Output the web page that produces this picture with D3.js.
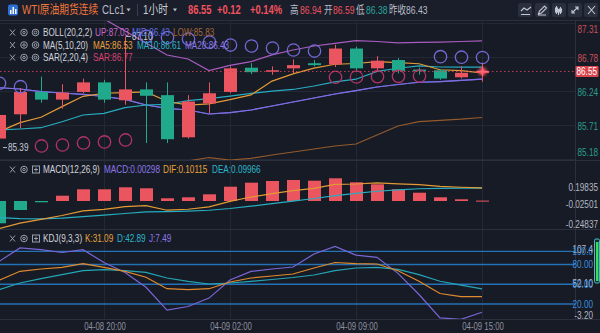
<!DOCTYPE html>
<html>
<head>
<meta charset="utf-8">
<script src="https://cdn.jsdelivr.net/npm/d3@7"></script>
<style>
  html, body { margin: 0; padding: 0; background: #171b26; }
  svg { display: block; }
</style>
</head>
<body>
<svg id="chart" width="600" height="333"></svg>
<script>
// ---------- hourly bars, WTI continuous ----------
const times = ["04-08 15:00","04-08 16:00","04-08 17:00","04-08 18:00","04-08 19:00","04-08 20:00",
  "04-08 21:00","04-08 22:00","04-08 23:00","04-09 00:00","04-09 01:00","04-09 02:00",
  "04-09 03:00","04-09 04:00","04-09 06:00","04-09 07:00","04-09 08:00","04-09 09:00",
  "04-09 10:00","04-09 11:00","04-09 12:00","04-09 13:00","04-09 14:00","04-09 15:00"];
const open  = [85.50,85.88,86.23,86.11,86.23,86.38,86.10,86.27,86.18,85.52,86.05,86.23,86.61,86.55,86.60,86.68,86.66,86.91,86.60,86.73,86.58,86.57,86.46,86.54];
const high  = [85.93,86.29,86.47,86.35,86.44,86.42,87.10,86.38,86.38,86.18,86.38,86.63,86.68,86.63,86.74,86.73,86.97,86.94,86.79,86.76,86.61,86.59,86.63,86.69];
const low   = [85.39,85.66,86.06,85.97,86.21,86.06,86.03,85.43,85.43,85.50,85.90,86.21,86.51,86.50,86.52,86.63,86.62,86.57,86.57,86.52,86.50,86.42,86.44,86.39];
const close = [85.87,86.23,86.11,86.22,86.38,86.11,86.27,86.17,85.49,86.08,86.21,86.60,86.54,86.57,86.65,86.65,86.91,86.60,86.72,86.56,86.57,86.44,86.53,86.55];

// moving averages
const ma5  = [85.608,85.749,85.833,86.000,86.162,86.210,86.218,86.230,86.084,86.024,86.044,86.110,86.184,86.400,86.514,86.602,86.664,86.676,86.706,86.688,86.672,86.578,86.564,86.530];
const ma10 = [85.634,85.650,85.670,85.764,85.869,85.896,85.984,86.026,86.037,86.093,86.127,86.164,86.207,86.242,86.269,86.323,86.387,86.430,86.553,86.601,86.637,86.621,86.620,86.618];
const ma20 = [86.297,86.276,86.234,86.214,86.193,86.159,86.115,86.026,85.974,85.947,85.885,85.905,85.947,86.010,86.073,86.135,86.198,86.250,86.308,86.347,86.382,86.393,86.410,86.430];

// Bollinger (20,2,2)
const bollUp  = [87.900,87.800,87.700,87.600,87.500,87.373,87.185,86.997,86.809,86.746,86.566,86.646,86.704,86.810,86.887,86.950,86.992,87.033,87.020,87.000,87.005,87.012,87.020,87.030];
const bollMid = ma20.slice();
const bollLow = [84.694,84.752,84.768,84.828,84.886,84.945,85.045,85.055,85.139,85.149,85.203,85.164,85.191,85.243,85.290,85.337,85.384,85.415,85.556,85.697,85.765,85.784,85.803,85.830];

// parabolic SAR (2,20,4)
const sar = [86.366,86.312,85.384,85.399,85.431,85.447,85.478,87.100,87.083,87.059,87.012,86.965,86.950,86.918,86.887,86.871,86.460,86.464,86.469,86.475,86.480,86.782,86.774,86.770];

// MACD (12,26,9)
const macdHist = [-0.1715,-0.0692,-0.0100,0.0408,0.0900,0.0900,0.1054,0.0977,0.0208,0.0285,0.0515,0.1100,0.1408,0.1538,0.1615,0.1562,0.1746,0.1438,0.1285,0.0900,0.0638,0.0285,0.0131,0.00298];
const dif = [-0.2127,-0.1702,-0.1419,-0.1114,-0.0755,-0.0643,-0.0434,-0.0350,-0.0709,-0.0635,-0.0455,-0.0025,0.0305,0.0562,0.0802,0.0971,0.1281,0.1307,0.1391,0.1311,0.1260,0.1119,0.1058,0.10115];
const dea = [-0.1270,-0.1356,-0.1369,-0.1318,-0.1205,-0.1093,-0.0961,-0.0839,-0.0813,-0.0777,-0.0713,-0.0575,-0.0399,-0.0207,-0.0005,0.0190,0.0408,0.0588,0.0749,0.0861,0.0941,0.0977,0.0993,0.09966];

// KDJ (9,3,3)
const kdjK = [56.00,69.65,73.14,75.72,81.18,75.72,69.65,60.55,43.25,41.73,43.25,53.41,59.48,62.52,65.55,74.66,83.00,81.18,80.73,70.50,54.48,36.00,31.30,31.09];
const kdjD = [41.73,51.90,58.42,64.49,70.56,72.08,70.56,68.13,59.48,54.48,50.38,51.90,54.48,57.21,60.24,64.04,70.80,74.66,75.72,72.50,64.49,54.50,48.55,42.89];
const kdjJ = [84.54,105.15,102.58,98.18,102.42,83.00,67.83,45.39,10.79,16.23,28.99,56.43,69.48,73.14,76.17,95.90,107.40,94.22,90.75,66.50,34.46,-1.00,-3.20,7.49];

// axis labels
const priceTicks = [87.31, 86.78, 86.24, 85.71, 85.18];
const macdTicks = [0.19835, -0.02501, -0.24837];
const kdjLevels = [100, 80, 50, 20];
const kdjRange = [107.4, 52.10, -3.20];
const timeTicks = ["04-08 20:00", "04-09 02:00", "04-09 09:00", "04-09 15:00"];
const lastPrice = 86.55;

// ---------- layout ----------
const W = 600, plotR = 575;
const SX = 0.78;  // narrow glyphs
const FONT = '"Liberation Sans", Arial, "Noto Sans CJK SC", sans-serif';
const C = {
  bg: "#171b26", header: "#1a1e2a", grid: "#232836", sep: "#2b303e",
  up: "#eb5560", down: "#20a98b", text: "#d2d5dd", dim: "#9aa0ad",
  ma5: "#e39a35", ma10: "#27adc0", ma20: "#7f6fe0",
  bUp: "#a85cc0", bMid: "#5a62d8", bLow: "#935a2c",
  sarAbove: "#7567d4", sarBelow: "#b1336a",
  kdjLine: "#2471b5", kdjLab: "#3b8fdc"
};

const svg = d3.select("#chart").attr("font-family", FONT);
const defs = svg.append("defs");
defs.append("filter").attr("id", "glow").attr("x", "-2").attr("y", "-2").attr("width", "5").attr("height", "5")
  .append("feGaussianBlur").attr("stdDeviation", 1.6);
const clip = (id, y0, y1) => defs.append("clipPath").attr("id", id)
  .append("rect").attr("x", -5).attr("y", y0).attr("width", plotR + 5).attr("height", y1 - y0);
clip("clipMain", 21, 160);
clip("clipMacd", 162, 229);
clip("clipKdj", 231, 319);

svg.append("rect").attr("width", W).attr("height", 333).attr("fill", C.bg);

function txt(parent, x, y, s, o = {}) {
  return parent.append("text")
    .attr("transform", `translate(${x},${y}) scale(${SX},1)`)
    .attr("dy", "0.35em")
    .attr("font-size", o.size || 10.5)
    .attr("font-weight", o.weight || "normal")
    .attr("fill", o.color || C.text)
    .attr("text-anchor", o.anchor || "start")
    .text(s);
}

// scales
const x = d3.scalePoint().domain(times).range([-1, 482]);
const priceY = d3.scaleLinear().domain([85.18, 87.31]).range([159, 23]);
const macdY = d3.scaleLinear().domain([-0.24837, 0.19835]).range([233.29, 175.21]);
const kdjY = d3.scaleLinear().domain([0, 100]).range([317.2, 251.3]);
const bodyW = 13;

// ---------- grid & separators ----------
const grid = svg.append("g");
grid.selectAll(".vg").data(timeTicks).join("line")
  .attr("x1", d => x(d) + 0.5).attr("x2", d => x(d) + 0.5)
  .attr("y1", 21).attr("y2", 319).attr("stroke", C.grid);
grid.selectAll(".hg").data(priceTicks).join("line")
  .attr("x1", 0).attr("x2", plotR).attr("y1", d => Math.round(priceY(d)) + 0.5).attr("y2", d => Math.round(priceY(d)) + 0.5)
  .attr("stroke", C.grid);
grid.append("line").attr("x1", plotR + 0.5).attr("x2", plotR + 0.5).attr("y1", 20).attr("y2", 319).attr("stroke", C.sep);
[160.5, 229.5, 319.5].forEach(y =>
  grid.append("line").attr("x1", 0).attr("x2", W).attr("y1", y).attr("y2", y).attr("stroke", C.sep));

// ---------- main price panel ----------
const main = svg.append("g").attr("clip-path", "url(#clipMain)");
const priceLine = arr => d3.line().x((d, i) => x(times[i])).y(d => priceY(d))(arr);
[[bollLow, C.bLow], [bollUp, C.bUp], [bollMid, C.bMid], [ma20, C.ma20], [ma10, C.ma10], [ma5, C.ma5]]
  .forEach(([arr, col]) => main.append("path").attr("d", priceLine(arr))
    .attr("fill", "none").attr("stroke", col).attr("stroke-width", 1.2));

const bars = times.map((t, i) => ({ t, o: open[i], h: high[i], l: low[i], c: close[i] }));
const cg = main.append("g");
cg.selectAll("line").data(bars).join("line")
  .attr("x1", d => x(d.t) + 0.5).attr("x2", d => x(d.t) + 0.5)
  .attr("y1", d => priceY(d.h)).attr("y2", d => priceY(d.l))
  .attr("stroke", d => d.c >= d.o ? C.up : C.down);
cg.selectAll("rect").data(bars).join("rect")
  .attr("x", d => x(d.t) - bodyW / 2 + 0.5).attr("width", bodyW)
  .attr("y", d => priceY(Math.max(d.o, d.c)))
  .attr("height", d => Math.max(1.5, Math.abs(priceY(d.o) - priceY(d.c))))
  .attr("fill", d => d.c >= d.o ? C.up : C.down);

main.selectAll(".sar").data(sar).join("circle")
  .attr("cx", (d, i) => x(times[i]) + 0.5).attr("cy", d => priceY(d)).attr("r", 6.2)
  .attr("fill", "none").attr("stroke-width", 1.3)
  .attr("stroke", (d, i) => d > high[i] ? C.sarAbove : C.sarBelow);

// last price guide
const yLast = priceY(lastPrice);
svg.append("line").attr("x1", 0).attr("x2", plotR).attr("y1", yLast).attr("y2", yLast)
  .attr("stroke", "#d8475a").attr("stroke-dasharray", "1.5,2.5").attr("opacity", 0.85);
const xLast = x(times[times.length - 1]) + 0.5;
svg.append("circle").attr("cx", xLast).attr("cy", yLast).attr("r", 4).attr("fill", "#ff4d5e")
  .attr("filter", "url(#glow)").attr("opacity", 0.9);
svg.append("path").attr("d", `M${xLast - 6},${yLast}H${xLast + 6}M${xLast},${yLast - 4}V${yLast + 4}`)
  .attr("stroke", "#ff6a76").attr("stroke-width", 1.6);

// extreme markers
const iMax = high.indexOf(d3.max(high)), iMin = low.indexOf(d3.min(low));
svg.append("line").attr("x1", x(times[iMax]) + 1).attr("x2", x(times[iMax]) + 6)
  .attr("y1", priceY(high[iMax])).attr("y2", priceY(high[iMax])).attr("stroke", "#b8bcc6");
txt(svg, x(times[iMax]) + 7, priceY(high[iMax]), high[iMax].toFixed(2), { color: "#c8ccd6" });
svg.append("line").attr("x1", x(times[iMin]) + 4).attr("x2", x(times[iMin]) + 8)
  .attr("y1", priceY(low[iMin]) + 2).attr("y2", priceY(low[iMin]) + 2).attr("stroke", "#b8bcc6");
txt(svg, x(times[iMin]) + 9, priceY(low[iMin]) + 2, low[iMin].toFixed(2), { color: "#c8ccd6" });

// price axis labels
priceTicks.forEach(v => {
  const y = Math.min(152, Math.max(29.3, priceY(v) + 1));
  txt(svg, 598, y, v.toFixed(2), { anchor: "end", color: v > lastPrice ? "#c9505a" : "#2a9d8a" });
});
svg.append("rect").attr("x", 575.5).attr("y", yLast - 5.5).attr("width", 23).attr("height", 11)
  .attr("fill", "#d9454f").attr("rx", 1);
txt(svg, 597, yLast, lastPrice.toFixed(2), { anchor: "end", color: "#ffffff" });

// ---------- MACD panel ----------
const macd = svg.append("g").attr("clip-path", "url(#clipMacd)");
macd.selectAll("rect").data(macdHist).join("rect")
  .attr("x", (d, i) => x(times[i]) - bodyW / 2 + 0.5).attr("width", bodyW)
  .attr("y", d => Math.min(macdY(d), macdY(0)))
  .attr("height", d => Math.max(1, Math.abs(macdY(d) - macdY(0))))
  .attr("fill", d => d >= 0 ? C.up : C.down);
const macdLine = arr => d3.line().x((d, i) => x(times[i])).y(d => macdY(d))(arr);
macd.append("path").attr("d", macdLine(dea)).attr("fill", "none").attr("stroke", C.ma10).attr("stroke-width", 1.2);
macd.append("path").attr("d", macdLine(dif)).attr("fill", "none").attr("stroke", C.ma5).attr("stroke-width", 1.2);
macdTicks.forEach(v => {
  const y = Math.min(224, Math.max(187, macdY(v)));
  txt(svg, 598, y, v.toFixed(5), { anchor: "end", color: "#b4b8c2" });
});

// ---------- KDJ panel ----------
const kdj = svg.append("g").attr("clip-path", "url(#clipKdj)");
kdj.selectAll("line").data(kdjLevels).join("line")
  .attr("x1", 0).attr("x2", plotR).attr("y1", d => kdjY(d)).attr("y2", d => kdjY(d))
  .attr("stroke", C.kdjLine).attr("stroke-width", 1.3);
const kdjLine = arr => d3.line().x((d, i) => x(times[i])).y(d => kdjY(d))(arr);
[[kdjJ, "#7a66d6"], [kdjD, "#23a6b6"], [kdjK, "#e08a2c"]].forEach(([arr, col]) =>
  kdj.append("path").attr("d", kdjLine(arr)).attr("fill", "none").attr("stroke", col).attr("stroke-width", 1.2));
kdjRange.forEach(v => {
  const y = Math.min(315.3, Math.max(249.5, kdjY(v)));
  txt(svg, 593, y, v.toFixed(v === kdjRange[0] ? 1 : 2), { anchor: "end", color: "#b4b8c2" });
});
kdjLevels.forEach(v => txt(svg, 593, kdjY(v), v === 100 ? "100.0" : v.toFixed(2), { anchor: "end", color: C.kdjLab }));
svg.append("rect").attr("x", 594.5).attr("y", 239).attr("width", 5).attr("height", 44).attr("rx", 1.5)
  .attr("fill", "#1f2a2e").attr("stroke", "#3cc0d0");
svg.append("rect").attr("x", 596).attr("y", 242).attr("width", 2.5).attr("height", 39).attr("fill", "#3ddc5a");

// ---------- time axis ----------
const xAxis = svg.append("g").attr("transform", "translate(0.5,320)")
  .call(d3.axisBottom(x).tickValues(timeTicks).tickSize(0).tickPadding(3));
xAxis.select(".domain").remove();
xAxis.selectAll("text").attr("fill", "#8d929f").attr("font-size", 10).attr("font-family", FONT)
  .attr("transform", `scale(${SX},1)`);

// ---------- legends ----------
function icons(y, third) {
  const g = svg.append("g").attr("stroke", C.dim).attr("fill", "none").attr("stroke-width", 1);
  g.append("path").attr("d", `M10,${y - 3}L15,${y + 3}M15,${y - 3}L10,${y + 3}`);
  g.append("circle").attr("cx", 24).attr("cy", y).attr("r", 3.3);
  g.append("circle").attr("cx", 24).attr("cy", y).attr("r", 1.2);
  if (third === "eye") {
    g.append("circle").attr("cx", 35.5).attr("cy", y).attr("r", 3.3);
    g.append("circle").attr("cx", 35.5).attr("cy", y).attr("r", 1.4);
  } else {
    g.append("rect").attr("x", 32.5).attr("y", y - 3.5).attr("width", 7).attr("height", 7);
    g.append("path").attr("d", `M36,${y - 2}V${y + 2}M34,${y}H38`);
  }
}
icons(32.5, "eye");
txt(svg, 43, 32.5, "BOLL(20,2,2)");
txt(svg, 95, 32.5, "UP:87.03", { color: "#c56ac9" });
txt(svg, 132, 32.5, "MID:86.43", { color: "#5f6fe0" });
txt(svg, 173, 32.5, "LOW:85.83", { color: "#a3663a" });
icons(45, "eye");
txt(svg, 43, 45, "MA(5,10,20)");
txt(svg, 93, 45, "MA5:86.53", { color: "#e8a23a" });
txt(svg, 137, 45, "MA10:86.61", { color: "#2bb6c9" });
txt(svg, 185, 45, "MA20:86.43", { color: "#8b78e6" });
icons(57.5, "eye");
txt(svg, 43, 57.5, "SAR(2,20,4)");
txt(svg, 93, 57.5, "SAR:86.77", { color: "#d8416f" });

icons(169.5, "box");
txt(svg, 43, 169.5, "MACD(12,26,9)");
txt(svg, 104, 169.5, "MACD:0.00298", { color: "#8b78e6" });
txt(svg, 163, 169.5, "DIF:0.10115", { color: "#e8a23a" });
txt(svg, 212, 169.5, "DEA:0.09966", { color: "#2bb6c9" });

icons(238.5, "box");
txt(svg, 43, 238.5, "KDJ(9,3,3)");
txt(svg, 85, 238.5, "K:31.09", { color: "#e8a23a" });
txt(svg, 117, 238.5, "D:42.89", { color: "#2bb6c9" });
txt(svg, 149, 238.5, "J:7.49", { color: "#8b78e6" });

// ---------- header ----------
const head = svg.append("g");
head.append("rect").attr("width", W).attr("height", 20).attr("fill", C.header);
head.append("line").attr("x1", 0).attr("x2", W).attr("y1", 20.5).attr("y2", 20.5).attr("stroke", C.sep);
head.append("rect").attr("x", 8).attr("y", 4.5).attr("width", 10).attr("height", 11).attr("rx", 2).attr("fill", "#2d6fd2");
[[10, 10, 4], [12.5, 7, 7], [15, 9, 5]].forEach(([bx, by, bh]) =>
  head.append("rect").attr("x", bx).attr("y", by).attr("width", 1.5).attr("height", bh).attr("fill", "#ffffff"));
txt(head, 22, 10, "WTI原油期货连续", { size: 12.5, color: "#f0763a" });
txt(head, 102, 10, "CLc1", { size: 12.5, color: "#b9bdc8" });
head.append("path").attr("d", "M126.5,8.5h4l-2,3z").attr("fill", "#b9bdc8");
head.append("line").attr("x1", 137.5).attr("x2", 137.5).attr("y1", 4).attr("y2", 16).attr("stroke", "#3a3f4d");
txt(head, 143, 10, "1小时", { size: 12.5, color: "#c9ccd4" });
head.append("path").attr("d", "M173,8.5h4l-2,3z").attr("fill", "#b9bdc8");
const red = "#f0525e";
txt(head, 188, 10, "86.55", { size: 12, color: red, weight: "bold" });
txt(head, 217, 10, "+0.12", { size: 12, color: red, weight: "bold" });
txt(head, 250, 10, "+0.14%", { size: 12, color: red, weight: "bold" });
txt(head, 290, 10, "高", { size: 11, color: "#b9bdc8" });
txt(head, 300, 10, "86.94", { size: 11, color: red });
txt(head, 324, 10, "开", { size: 11, color: "#b9bdc8" });
txt(head, 333, 10, "86.59", { size: 11, color: red });
txt(head, 356, 10, "低", { size: 11, color: "#b9bdc8" });
txt(head, 366, 10, "86.38", { size: 11, color: "#26a69a" });
txt(head, 389, 10, "昨收", { size: 11, color: "#b9bdc8" });
txt(head, 406, 10, "86.43", { size: 11, color: "#b9bdc8" });

// tool buttons
const btnX = [518, 535, 552, 568, 584];
const bg = head.append("g");
btnX.forEach(bx => bg.append("rect").attr("x", bx).attr("y", 3).attr("width", 14).attr("height", 14).attr("rx", 2).attr("fill", "#2a2f3d"));
const ic = head.append("g").attr("stroke", "#c3c7d1").attr("fill", "none").attr("stroke-width", 1.1);
ic.append("path").attr("d", "M521,11l3,-3l3,2l4,-3M521,14.5h9");
ic.append("path").attr("d", "M538.5,14l1,-3l5,-5l2,2l-5,5zM538,15h8");
ic.append("path").attr("d", "M556.5,6v8M560.5,7v7M558.5,9v6");
ic.append("rect").attr("x", 555.5).attr("y", 8).attr("width", 2).attr("height", 4).attr("fill", "#c3c7d1");
ic.append("rect").attr("x", 559.5).attr("y", 9).attr("width", 2).attr("height", 3).attr("fill", "#c3c7d1");
ic.append("path").attr("d", "M572,13l6,-6M575,7h3v3M572,10v3h3");
ic.append("path").attr("d", "M588,6l7,8M595,6l-7,8");
</script>
</body>
</html>
